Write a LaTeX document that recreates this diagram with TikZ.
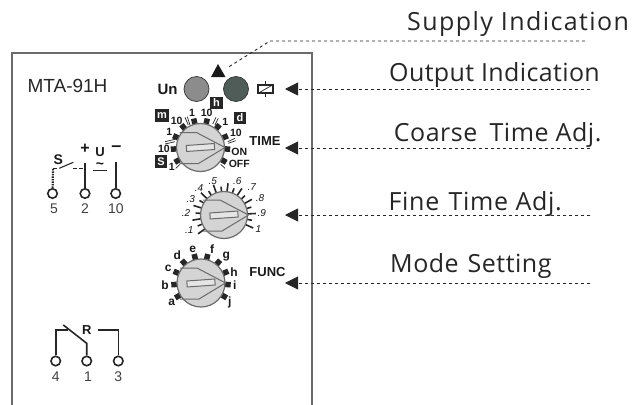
\documentclass[tikz,border=0pt]{standalone}
\usepackage{fontspec}
\setmainfont{Liberation Sans}
\newfontfamily\labelfont{Open Sans}
\usetikzlibrary{arrows.meta}
\definecolor{panelgray}{gray}{0.42}
\definecolor{ledlight}{gray}{0.55}
\definecolor{leddark}{RGB}{80,92,88}
\definecolor{dialgray}{gray}{0.83}
\definecolor{inkgray}{gray}{0.25}
\tikzstyle{caption} =
	[
		font = \labelfont\fontsize{25}{25}\selectfont,
		text = black!85,
		anchor = base west,
		inner sep = 0pt
	]
\tikzstyle{boldtext} =
	[
		font = \fontsize{10.5}{10.5}\selectfont\bfseries,
		text = black!90,
		inner sep = 0pt
	]
\tikzstyle{finetick} =
	[
		font = \fontsize{10}{10}\selectfont\itshape,
		text = black!90,
		inner sep = 0pt
	]
\tikzstyle{pinnumber} =
	[
		font = \fontsize{14}{14}\selectfont,
		text = inkgray,
		inner sep = 0pt
	]
\tikzstyle{tag} =
	[
		fill = black!85,
		text = white,
		font = \fontsize{11}{11}\selectfont\bfseries,
		minimum size = 12.5pt,
		inner sep = 0pt
	]
\tikzstyle{terminal} =
	[
		circle,
		draw = black!85,
		line width = 1.6pt,
		fill = white,
		minimum size = 9.5pt,
		inner sep = 0pt
	]
\tikzstyle{dial} =
	[
		circle,
		draw = panelgray,
		line width = 1.2pt,
		fill = dialgray,
		minimum size = 48pt,
		inner sep = 0pt
	]
\tikzstyle{led} =
	[
		circle,
		draw = black!80,
		line width = 0.7pt,
		minimum size = 25pt,
		inner sep = 0pt
	]
\tikzstyle{stud} =
	[
		fill = black!85,
		minimum size = 5.5pt,
		inner sep = 0pt
	]
\tikzstyle{leader} =
	[
		draw = black!85,
		line width = 0.9pt,
		dash pattern = on 3pt off 3pt,
		-{Triangle[length = 13pt, width = 13pt]}
	]
\tikzstyle{wire} =
	[
		draw = black!85,
		line width = 1.6pt
	]
\tikzstyle{hairline} =
	[
		draw = black!85,
		line width = 0.7pt
	]
\tikzstyle{knob} =
	[
		draw = panelgray,
		line width = 1pt
	]
\newcommand{\knobmark}[1]{
	\draw [knob] (#1) ++(24.5,0) -- ++(-28.5,-15) -- ++(-17,0);
	\draw [knob] (#1) ++(24.5,0) -- ++(-26.5,16) -- ++(-19,0);
	\draw [knob, fill = dialgray!60, rotate around = {4:(#1)}] (#1) ++(-14,-3) rectangle ++(28,6);
}
\begin{document}
\begin{tikzpicture}[x = 1pt, y = -1pt]
	\useasboundingbox (0,0) rectangle (633,405);
	\node [caption] (supplytext) at (407,30.7) {\addfontfeature{LetterSpace=5.7}Supply Indication};
	\node [caption] (outputtext) at (389,81) {\addfontfeature{LetterSpace=1.5}Output Indication};
	\node [caption] (coarsetext) at (393.6,141) {\addfontfeature{LetterSpace=2.2}Coarse\kern5pt\ Time Adj.};
	\node [caption] (finetext) at (388.3,210) {\addfontfeature{LetterSpace=3}Fine\kern2pt\ Time Adj.};
	\node [caption] (modetext) at (390,272.7) {\addfontfeature{LetterSpace=2}Mode\kern2pt\ Setting};
	\draw [panelgray, line width = 1.3pt] (12,405) -- (12,53) -- (312,53) -- (312,405);
	\node [font = \fontsize{19}{19}\selectfont, text = black!85, inner sep = 0pt] (model) at (67.5,86) {MTA-91H};
	\node [boldtext, font = \fontsize{15}{15}\selectfont\bfseries] (un) at (167.5,89) {Un};
	\node [led, fill = ledlight] (ledun) at (196.5,89) {};
	\node [led, fill = leddark] (ledout) at (236,89) {};
	\node [draw = black!85, line width = 1.2pt, minimum width = 15pt, minimum height = 8pt, inner sep = 0pt] (relay) at (265.5,89) {};
	\draw [hairline] (relay.south west) -- (relay.north east);
	\draw [hairline] (relay.north) -- ++(0,-3);
	\draw [hairline] (relay.south) -- ++(0,3);
	\node [tag] (tagh) at (216.5,103) {h};
	\node [tag, minimum width = 14pt] (tagm) at (162,115.5) {m};
	\node [tag] (tagd) at (240,118) {d};
	\node [tag] (tags) at (161,161.5) {S};
	\coordinate (coarse) at (200.5,147.5);
	\coordinate (fine) at (224,215);
	\coordinate (mode) at (201,283);
	\foreach \ang [count = \n] in {-30,-3.3,23.3,50,76.7,103.3,130,156.7,183.3,210}
	{
		\path (coarse) ++(-\ang:27) node [stud, rotate = \ang] (coarsestud\n) {};
		\path (mode) ++(-\ang:27) node [stud, rotate = \ang] (modestud\n) {};
	}
	\foreach \ang in {-24,2.7,29.3,56,82.7,109.3,136,162.7,189.3,216}
		\draw [wire] (fine) ++(-\ang:23) -- ++(-\ang:9);
	\foreach \ang in {-10.7,16,42.7,69.3,96,122.7,149.3,176,202.7}
		\draw [wire] (fine) ++(-\ang:23) -- ++(-\ang:5.5);
	\node [dial] (coarsedial) at (coarse) {};
	\node [dial, minimum size = 47pt] (finedial) at (fine) {};
	\node [dial] (modedial) at (mode) {};
	\knobmark{coarse}
	\knobmark{fine}
	\knobmark{mode}
	\draw [hairline] (185,117.3) -- (188.3,125);
	\draw [hairline] (187.3,116.7) -- (190,125);
	\draw [hairline] (212.7,124) -- (216,117.3);
	\draw [hairline] (215,125) -- (218.3,118.3);
	\draw [hairline] (227.7,141.7) -- (235,138.3);
	\draw [hairline] (228.3,143.3) -- (235.7,140.7);
	\draw [hairline] (165,141.7) -- (175,139.3);
	\draw [hairline] (165,144) -- (175,141.7);
	\draw [hairline] (175.7,168.3) -- (180,164.3);
	\draw [hairline] (220.7,164.3) -- (225,168.3);
	\foreach \txt/\px/\py [count = \n] in {10/176.7/121,1/192/113,10/206.7/113,1/225.3/122,10/236/133,10/164/149,1/169.3/132.3,1/171.7/167,ON/239.3/151.7,OFF/239.3/164.3}
		\node [boldtext] (coarselabel\n) at (\px,\py) {\txt};
	\node [boldtext, font = \fontsize{13}{13}\selectfont\bfseries] (timelabel) at (265,141) {TIME};
	\foreach \txt/\px/\py [count = \n] in {.1/189.3/230,.2/186/213.3,.3/190.7/199.3,.4/199/188.3,.5/212.7/180.7,.6/237.3/180.7,.7/251.7/187.3,.8/260/198.3,.9/261.7/212.7,1/258.3/229.3}
		\node [finetick] (finelabel\n) at (\px,\py) {\txt};
	\foreach \txt/\px/\py in {a/171.7/302,b/165/285,c/168.3/268.3,d/177.3/255.7,e/192.7/249.3,f/212/249.3,g/226.3/256.7,h/234/272.3,i/234.7/285,j/229.7/302.3}
		\node [boldtext, font = \fontsize{12}{12}\selectfont\bfseries] (mode\txt) at (\px,\py) {\txt};
	\node [boldtext, font = \fontsize{13}{13}\selectfont\bfseries] (funclabel) at (267.5,272.5) {FUNC};
	\node [terminal] (pinfive) at (52.5,193.5) {};
	\node [terminal] (pintwo) at (85,193.5) {};
	\node [terminal] (pinten) at (115.7,193.5) {};
	\node [pinnumber] (numfive) at (54,208.5) {5};
	\node [pinnumber] (numtwo) at (85,208.5) {2};
	\node [pinnumber] (numten) at (116,208.5) {10};
	\coordinate (fivetop) at (53,168.3);
	\coordinate (twotop) at (85,163);
	\coordinate (tentop) at (115.7,162);
	\draw [wire] (pintwo) -- (twotop);
	\draw [wire] (pinten) -- (tentop);
	\draw [wire, line width = 2.2pt, dash pattern = on 1.5pt off 1pt] (pinfive) -- (fivetop);
	\draw [wire, line width = 1pt] (fivetop) -- ++(4,0);
	\draw [wire, line width = 1.1pt] (59.3,168.3) -- (73.3,162.3);
	\draw [wire, line width = 1pt, dash pattern = on 4pt off 2pt] (73,168.3) -- (twotop |- fivetop);
	\node [boldtext, font = \fontsize{14}{14}\selectfont\bfseries] (slabel) at (58.3,159.3) {S};
	\node [boldtext, font = \fontsize{16}{16}\selectfont\bfseries] (plus) at (85,149) {+};
	\node [boldtext, font = \fontsize{13}{13}\selectfont\bfseries] (ulabel) at (100,152) {U};
	\node [boldtext, font = \fontsize{14}{14}\selectfont\bfseries] (tilde) at (100,166) {\char"7E};
	\node [boldtext, font = \fontsize{18}{18}\selectfont\bfseries] (minus) at (116.5,148.5) {–};
	\draw [hairline, line width = 1pt] (93,170) -- (107,170);
	\node [terminal] (pinfour) at (55.7,361) {};
	\node [terminal] (pinone) at (86.7,361) {};
	\node [terminal] (pinthree) at (118.3,361) {};
	\node [pinnumber] (numfour) at (55.7,377) {4};
	\node [pinnumber] (numone) at (88,377) {1};
	\node [pinnumber] (numthree) at (118.3,377) {3};
	\draw [wire] (pinfour) -- (55.7,330) -- (68,330);
	\draw [wire] (63.3,325) -- (86.7,343.3) -- (pinone);
	\draw [wire] (pinthree) -- (118.3,330) -- (98.3,330);
	\node [boldtext, font = \fontsize{13}{13}\selectfont\bfseries] (rlabel) at (86.7,330.5) {R};
	\coordinate (supplyend) at (585,41);
	\coordinate (outputend) at (590,89);
	\coordinate (coarseend) at (590,148);
	\coordinate (fineend) at (590,215);
	\coordinate (modeend) at (590,283);
	\path [leader] (outputend) -- (285,89);
	\path [leader] (coarseend) -- (285,148);
	\path [leader] (fineend) -- (285,215);
	\path [leader] (modeend) -- (285,283);
	\coordinate (supplybend) at (270,41);
	\coordinate (supplytip) at (218,64);
	\draw [black!85, line width = 0.9pt, dash pattern = on 3pt off 3pt] (supplyend) -- (supplybend) -- (227,68);
	\fill [black!90] (supplytip) -- (225.5,77) -- (211,77) -- cycle;
\end{tikzpicture}
\end{document}
